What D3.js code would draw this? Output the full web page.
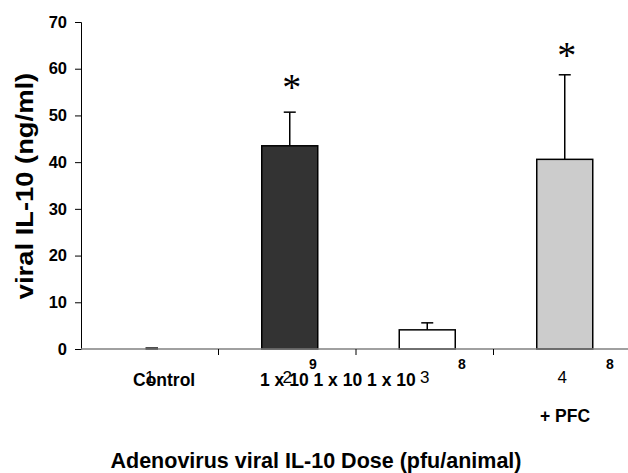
<!DOCTYPE html>
<html>
<head>
<meta charset="utf-8">
<script src="https://cdn.jsdelivr.net/npm/d3@7"></script>
<style>
  html, body { margin: 0; padding: 0; background: #fff; }
  svg text { font-family: "Liberation Sans", Arial, sans-serif; }
</style>
</head>
<body>
<svg id="chart" width="628" height="473"></svg>
<script>
// ---- data ----
const categories = ["1", "2", "3", "4"];
const means = [0.2, 43.5, 4.1, 40.6];
const upperErrors = [0, 7.2, 1.5, 18.1];
const fills = ["#000000", "#333333", "#ffffff", "#cccccc"];
const significant = [false, true, false, true];
const asteriskValues = [null, 56.6, null, 63.3];
const yTicks = [0, 10, 20, 30, 40, 50, 60, 70];
const doseLabelText = "1 x 10 1 x 10 1 x 10";
const superscripts = ["9", "8", "8"];
const yTitle = "viral IL-10 (ng/ml)";
const xTitle = "Adenovirus viral IL-10 Dose (pfu/animal)";

const svg = d3.select("#chart");
const x = d3.scaleBand().domain(categories).range([81, 631]).paddingInner(0).paddingOuter(0);
const barW = 56;
const y = d3.scaleLinear().domain([0, 70]).range([349, 22]);

// y axis
const yAxis = d3.axisLeft(y).tickValues(yTicks).tickSize(6).tickPadding(8).tickFormat(d3.format("d"));
const yg = svg.append("g").attr("transform", "translate(81,0)").call(yAxis);
yg.select(".domain").attr("stroke", "#000").attr("stroke-width", 1);
yg.selectAll(".tick line").attr("stroke", "#000");
yg.selectAll(".tick text").attr("font-size", 16.5).attr("font-weight", "bold").attr("fill", "#000")
  .attr("font-family", "Liberation Sans, Arial, sans-serif");

// bars
const cx = d => x(d) + x.bandwidth() / 2 + 2.5;
svg.append("g").selectAll("rect").data(categories).join("rect")
  .attr("x", d => cx(d) - barW / 2 + (d === "1" ? 22 : 0))
  .attr("width", (d) => d === "1" ? 11 : barW)
  .attr("y", (d, i) => y(means[i]))
  .attr("height", (d, i) => y(0) - y(means[i]))
  .attr("fill", (d, i) => fills[i])
  .attr("stroke", "#000").attr("stroke-width", 1.5);

// error bars
const eg = svg.append("g").attr("stroke", "#000").attr("stroke-width", 1.5);
categories.forEach((c, i) => {
  if (upperErrors[i] <= 0) return;
  const top = y(means[i] + upperErrors[i]);
  eg.append("line").attr("x1", cx(c)).attr("x2", cx(c)).attr("y1", y(means[i])).attr("y2", top);
  eg.append("line").attr("x1", cx(c) - 6).attr("x2", cx(c) + 6).attr("y1", top).attr("y2", top);
});

// asterisks
categories.forEach((c, i) => {
  if (!significant[i]) return;
  svg.append("text").attr("x", cx(c) + 2).attr("y", y(asteriskValues[i]) + 15)
    .attr("text-anchor", "middle").attr("font-size", 38)
    .style("font-family", "Liberation Serif, Times New Roman, serif")
    .text("*");
});

// x axis line
svg.append("line").attr("x1", 81).attr("x2", 628).attr("y1", 349).attr("y2", 349)
  .attr("stroke", "#808080").attr("stroke-width", 1.5);
// category boundary ticks
categories.slice(1).forEach(c => {
  svg.append("line").attr("x1", x(c)).attr("x2", x(c)).attr("y1", 349).attr("y2", 355)
    .attr("stroke", "#000").attr("stroke-width", 1);
});

// category index labels
svg.append("g").selectAll("text").data(categories).join("text")
  .attr("x", d => x(d) + x.bandwidth() / 2)
  .attr("y", 383)
  .attr("text-anchor", "middle").attr("font-size", 17).attr("fill", "#000")
  .text(d => d);

// Control label
svg.append("text").attr("x", 133).attr("y", 386).attr("font-size", 17.5).attr("font-weight", "bold")
  .text("Control");
// dose labels (overlapping run)
svg.append("text").attr("x", 260).attr("y", 386).attr("font-size", 17.5).attr("font-weight", "bold")
  .text(doseLabelText);
// superscripts
const supX = [313, 462, 610];
superscripts.forEach((s, i) => {
  svg.append("text").attr("x", supX[i]).attr("y", 369).attr("text-anchor", "middle")
    .attr("font-size", 14).attr("font-weight", "bold").text(s);
});
// + PFC
svg.append("text").attr("x", 565).attr("y", 422).attr("text-anchor", "middle")
  .attr("font-size", 17.5).attr("font-weight", "bold").text("+ PFC");

// axis titles
svg.append("text").attr("x", 316).attr("y", 468).attr("text-anchor", "middle")
  .attr("font-size", 21.5).attr("font-weight", "bold").text(xTitle);
svg.append("text").attr("transform", "translate(33,186) rotate(-90) scale(1.14,1)").attr("text-anchor", "middle")
  .attr("font-size", 24).attr("font-weight", "bold").text(yTitle);
</script>
</body>
</html>
